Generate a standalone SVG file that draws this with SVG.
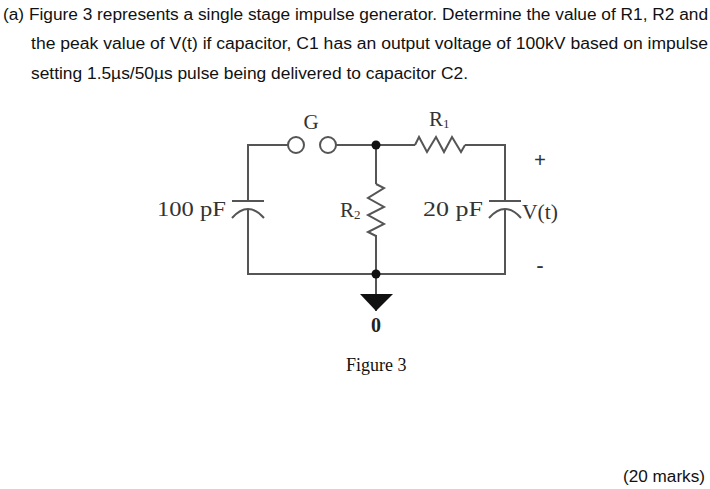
<svg xmlns="http://www.w3.org/2000/svg" width="710" height="489" viewBox="0 0 710 489">
<style>
.q{font-family:"Liberation Sans",Arial,sans-serif;font-size:17.3px;fill:#111}
.c{font-family:"Liberation Serif","Times New Roman",serif;font-size:21px;fill:#333}
.f{font-family:"Liberation Serif","Times New Roman",serif;font-size:18px;fill:#111}
.w{fill:none;stroke:#555;stroke-width:2}
.o{fill:#fff;stroke:#555;stroke-width:2}
.d{fill:#111}
</style>
<rect width="710" height="489" fill="#fff"/>
<g id="question">
<text class="q" x="3" y="20" textLength="705" lengthAdjust="spacingAndGlyphs">(a) Figure 3 represents a single stage impulse generator. Determine the value of R1, R2 and</text>
<text class="q" x="31" y="49" textLength="677" lengthAdjust="spacingAndGlyphs">the peak value of V(t) if capacitor, C1 has an output voltage of 100kV based on impulse</text>
<text class="q" x="31" y="79" textLength="437" lengthAdjust="spacingAndGlyphs">setting 1.5µs/50µs pulse being delivered to capacitor C2.</text>
<text class="q" x="623" y="482" textLength="82" lengthAdjust="spacingAndGlyphs">(20 marks)</text>
</g>
<g id="connectors">
<path class="w" d="M288 145H248V201M248 209V274H505V209M505 201V145H465M415 145H336M376 145V184M376 235V311"/>
</g>
<g id="switch-G">
<circle class="o" cx="296" cy="145" r="8"/><circle class="o" cx="328" cy="145" r="8"/>
<text class="c" x="311" y="129" text-anchor="middle">G</text>
</g>
<g id="R1">
<path class="w" d="M415 145L419 137L427 152L436 137L444 152L452 137L461 152L465 145"/>
<text class="c" x="429" y="126">R<tspan font-size="13" dy="2">1</tspan></text>
</g>
<g id="R2">
<path class="w" d="M376 184L384 188L368 198L384 207L368 215L384 224L368 232L376 236"/>
<text class="c" x="340" y="217">R<tspan font-size="13" dy="2">2</tspan></text>
</g>
<g id="C1">
<path class="w" d="M232 201H264M232 218Q248 200 264 218"/>
<text class="c" x="157" y="216" textLength="69" lengthAdjust="spacingAndGlyphs">100 pF</text>
</g>
<g id="C2">
<path class="w" d="M489 201H521M489 218Q505 200 521 218"/>
<text class="c" x="423" y="216" textLength="60" lengthAdjust="spacingAndGlyphs">20 pF</text>
<text class="c" x="522" y="219" textLength="36" lengthAdjust="spacingAndGlyphs">V(t)</text>
<text class="c" x="540" y="167" text-anchor="middle" font-weight="bold">+</text>
<text class="c" x="540" y="272" text-anchor="middle" font-weight="bold">-</text>
</g>
<g id="junction-top"><circle class="d" cx="376" cy="145" r="4.5"/></g>
<g id="junction-bottom"><circle class="d" cx="376" cy="274" r="4.5"/></g>
<g id="ground">
<path class="d" d="M360 294H393L376 311Z"/>
<text x="376" y="332" text-anchor="middle" font-family="Liberation Serif,serif" font-size="20" font-weight="bold" fill="#222">0</text>
</g>
<g id="caption"><text class="f" x="346" y="371">Figure 3</text></g>
</svg>
